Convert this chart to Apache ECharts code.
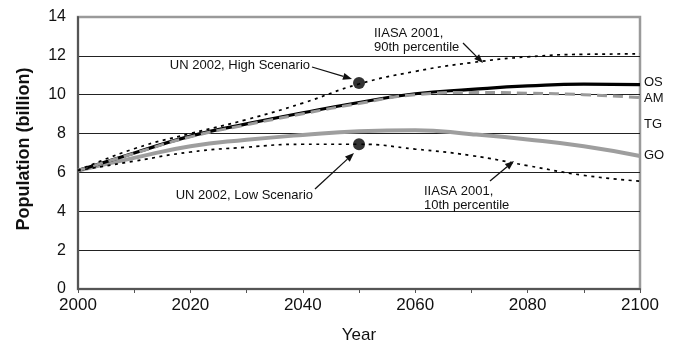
<!DOCTYPE html>
<html>
<head>
<meta charset="utf-8">
<script src="https://cdn.jsdelivr.net/npm/echarts@6/dist/echarts.min.js"></script>
<style>
html,body{margin:0;padding:0;background:#fff;}
#chart{width:674px;height:349px;}
</style>
</head>
<body>
<div id="chart"></div>
<script>
// ---- data ----
var years = [2000, 2010, 2020, 2030, 2040, 2050, 2060, 2070, 2080, 2090, 2100];
var osValues  = [6.1, 7.0, 7.87, 8.5, 9.07, 9.6, 10.05, 10.27, 10.45, 10.55, 10.52];
var amValues  = [6.1, 6.98, 7.83, 8.45, 9.02, 9.55, 10.0, 10.12, 10.08, 10.0, 9.85];
var goValues  = [6.1, 6.75, 7.35, 7.68, 7.93, 8.12, 8.17, 7.97, 7.7, 7.35, 6.85];
var iiasa90   = [6.1, 7.22, 8.0, 8.72, 9.57, 10.55, 11.2, 11.65, 11.95, 12.08, 12.1];
var iiasa10   = [6.1, 6.58, 7.05, 7.3, 7.45, 7.45, 7.2, 6.87, 6.35, 5.85, 5.55];
var unHigh = [2050, 10.6];
var unLow  = [2050, 7.45];
var seriesNames = ['OS', 'AM', 'TG', 'GO'];
var yTicks = [0, 2, 4, 6, 8, 10, 12, 14];
var xTicks = [2000, 2020, 2040, 2060, 2080, 2100];

function pairs(vals){ return years.map(function(y,i){ return [y, vals[i]]; }); }

var FONT = 'Liberation Sans, Arial, Helvetica, sans-serif';
var chart = echarts.init(document.getElementById('chart'), null, {renderer:'canvas'});

function arrow(x1,y1,x2,y2){
  var ang = Math.atan2(y2-y1, x2-x1);
  var L = 9, W = 3.5;
  var bx = x2 - L*Math.cos(ang), by = y2 - L*Math.sin(ang);
  var px = -Math.sin(ang)*W, py = Math.cos(ang)*W;
  return [
    {type:'line', shape:{x1:x1,y1:y1,x2:bx,y2:by}, style:{stroke:'#111', lineWidth:1.3}, z:20},
    {type:'polygon', shape:{points:[[x2,y2],[bx+px,by+py],[bx-px,by-py]]}, style:{fill:'#111'}, z:20}
  ];
}
function txt(x,y,t,align){
  return {type:'text', x:x, y:y, z:20, style:{text:t, font:'13px '+FONT, fill:'#111', textAlign:align||'left', textVerticalAlign:'middle', lineHeight:14}};
}

var graphics = [];
graphics.push(txt(310, 65, 'UN 2002, High Scenario', 'right'));
graphics = graphics.concat(arrow(312, 67, 352, 79));
graphics.push(txt(374, 40, 'IIASA 2001,\n90th percentile', 'left'));
graphics = graphics.concat(arrow(463, 43, 483, 63));
graphics.push(txt(313, 195, 'UN 2002, Low Scenario', 'right'));
graphics = graphics.concat(arrow(315, 189, 354, 153));
graphics.push(txt(424, 198, 'IIASA 2001,\n10th percentile', 'left'));
graphics = graphics.concat(arrow(490, 181, 514, 161));
graphics.push(txt(644, 124, seriesNames[2], 'left'));
graphics.push({type:'text', x:24, y:149, rotation:Math.PI/2, z:20,
  style:{text:'Population (billion)', font:'bold 18px '+FONT, fill:'#111', textAlign:'center', textVerticalAlign:'middle'}});

function endLbl(dy){
  return {show:true, formatter:'{a}', color:'#111', fontFamily:FONT, fontSize:13, distance:4, offset:[0,dy]};
}

chart.setOption({
  animation:false,
  backgroundColor:'#fff',
  grid:{left:78, right:34, top:17, bottom:59, show:true, borderColor:'#9a9a9a', borderWidth:2.5, backgroundColor:'transparent'},
  xAxis:{
    type:'value', min:2000, max:2100, interval:10,
    name:'Year', nameLocation:'middle', nameGap:38,
    nameTextStyle:{fontFamily:FONT, fontSize:17, color:'#111'},
    axisLine:{lineStyle:{color:'#555', width:2}},
    axisTick:{show:true, length:4, lineStyle:{color:'#555', width:1}},
    axisLabel:{fontFamily:FONT, fontSize:17, color:'#111', margin:8,
      formatter:function(v){ return xTicks.indexOf(v) >= 0 ? String(v) : ''; }},
    splitLine:{show:false}
  },
  yAxis:{
    type:'value', min:0, max:14, interval:2,
    axisLine:{show:true, lineStyle:{color:'#555', width:2}},
    axisTick:{show:false},
    axisLabel:{fontFamily:FONT, fontSize:16, color:'#111', margin:12,
      formatter:function(v){ return yTicks.indexOf(v) >= 0 ? String(v) : ''; }},
    splitLine:{show:true, showMinLine:false, showMaxLine:false, lineStyle:{color:'#222', width:1}}
  },
  graphic:graphics,
  series:[
    {name:seriesNames[3], type:'line', data:pairs(goValues), smooth:true, symbol:'none',
      lineStyle:{color:'#9e9e9e', width:4}, endLabel:endLbl(0), z:2},
    {name:seriesNames[0], type:'line', data:pairs(osValues), smooth:true, symbol:'none',
      lineStyle:{color:'#000', width:3.2}, endLabel:endLbl(-2), z:3},
    {name:seriesNames[1], type:'line', data:pairs(amValues), smooth:true, symbol:'none',
      lineStyle:{color:'#9a9a9a', width:3, type:[10,6]}, endLabel:endLbl(1), z:4},
    {name:'IIASA 90', type:'line', data:pairs(iiasa90), smooth:true, symbol:'none',
      lineStyle:{color:'#000', width:1.7, type:[3,4.5]}, z:5},
    {name:'IIASA 10', type:'line', data:pairs(iiasa10), smooth:true, symbol:'none',
      lineStyle:{color:'#000', width:1.7, type:[3,4.5]}, z:5},
    {name:'UN 2002', type:'scatter', data:[unHigh, unLow], symbol:'circle', symbolSize:12,
      itemStyle:{color:'#000'}, z:6}
  ]
});
</script>
</body>
</html>
